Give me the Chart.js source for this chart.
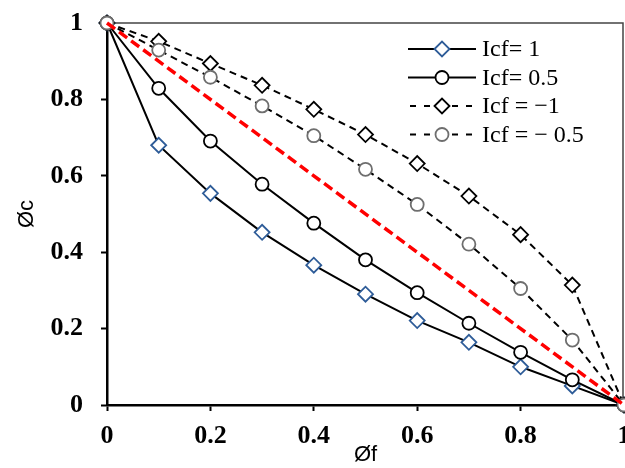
<!DOCTYPE html>
<html>
<head>
<meta charset="utf-8">
<script src="https://cdn.jsdelivr.net/npm/chart.js@4/dist/chart.umd.min.js"></script>
<style>
  html, body { margin: 0; padding: 0; background: #fff; }
  #wrap { width: 625px; height: 468px; position: relative; }
</style>
</head>
<body>
<div id="wrap"><canvas id="chart"></canvas></div>
<script>
// volume fraction of the fine phase
const phiF = [0, 0.1, 0.2, 0.3, 0.4, 0.5, 0.6, 0.7, 0.8, 0.9, 1];

// coarse fraction for each interaction coefficient
const icf1 = [1, 0.68, 0.554, 0.452, 0.366, 0.29, 0.221, 0.164, 0.1, 0.05, 0];
const icf05 = [1, 0.829, 0.691, 0.578, 0.476, 0.38, 0.294, 0.214, 0.138, 0.066, 0];
const icfM1 = [1, 0.952, 0.894, 0.837, 0.774, 0.708, 0.632, 0.547, 0.446, 0.314, 0];
const icfM05 = [1, 0.929, 0.858, 0.783, 0.705, 0.617, 0.525, 0.421, 0.305, 0.17, 0];

// ideal mixing line (no interaction)
const idealX = [0, 1];
const idealY = [1, 0];

const seriesLabels = ["Icf= 1", "Icf= 0.5", "Icf = \u22121", "Icf = \u2212 0.5"];
const axisTicks = [0, 0.2, 0.4, 0.6, 0.8, 1];

function toPoints(xs, ys) {
  return xs.map((x, i) => ({ x: x, y: ys[i] }));
}

function series(label, ys, markerColor, pointStyle, radius, dash) {
  return {
    label: label,
    data: toPoints(phiF, ys),
    borderColor: "#000",
    borderWidth: 2,
    borderDash: dash,
    pointStyle: pointStyle,
    pointRadius: radius,
    pointHoverRadius: radius,
    pointBorderColor: markerColor,
    pointBackgroundColor: "#fff",
    pointBorderWidth: 1.8,
    tension: 0,
    clip: false,
  };
}

const datasets = [
  {
    label: "ideal",
    data: toPoints(idealX, idealY),
    borderColor: "#ff0000",
    borderWidth: 3.5,
    borderDash: [10, 5],
    pointRadius: 0,
    tension: 0,
    clip: false,
  },
  series(seriesLabels[3], icfM05, "#6e6e6e", "circle", 6.5, [7, 5]),
  series(seriesLabels[2], icfM1, "#000", "rectRot", 7.5, [7, 5]),
  series(seriesLabels[1], icf05, "#000", "circle", 6.5, []),
  series(seriesLabels[0], icf1, "#2e5c98", "rectRot", 7.5, []),
];

// thin frame on the top and right of the plot area
const framePlugin = {
  id: "frame",
  beforeDatasetsDraw(chart) {
    const { ctx, chartArea: a } = chart;
    ctx.save();
    ctx.strokeStyle = "#444";
    ctx.lineWidth = 1.5;
    ctx.beginPath();
    ctx.moveTo(a.left, a.top);
    ctx.lineTo(a.right - 1, a.top);
    ctx.lineTo(a.right - 1, a.bottom);
    ctx.stroke();
    ctx.restore();
  },
};

// legend with a line sample and the marker in the middle
const lineLegend = {
  id: "lineLegend",
  afterDatasetsDraw(chart) {
    const ctx = chart.ctx;
    const items = seriesLabels.map((label) =>
      chart.data.datasets.find((d) => d.label === label)
    );
    const x0 = 408, x1 = 476, top = 49, step = 28.5;
    ctx.save();
    items.forEach((ds, i) => {
      const y = top + i * step;
      ctx.strokeStyle = "#000";
      ctx.lineWidth = 2;
      ctx.setLineDash(ds.borderDash.length ? [6, 8] : []);
      ctx.lineDashOffset = -2;
      ctx.beginPath();
      ctx.moveTo(x0, y);
      ctx.lineTo(x1, y);
      ctx.stroke();
      ctx.setLineDash([]);
      ctx.fillStyle = "#fff";
      ctx.strokeStyle = ds.pointBorderColor;
      ctx.lineWidth = ds.pointBorderWidth;
      Chart.helpers.drawPoint(ctx, {
        pointStyle: ds.pointStyle,
        radius: ds.pointRadius,
        rotation: 0,
        borderWidth: ds.pointBorderWidth,
      }, (x0 + x1) / 2, y);
      ctx.fillStyle = "#000";
      ctx.font = "24px 'Liberation Serif', 'Times New Roman', serif";
      ctx.textBaseline = "middle";
      ctx.textAlign = "left";
      ctx.fillText(ds.label, x1 + 6, y + 1);
    });
    ctx.restore();
  },
};

const tickFont = { family: "'Liberation Serif', 'Times New Roman', serif", size: 26, weight: "bold" };
const titleFont = { family: "'Liberation Sans', Arial, sans-serif", size: 22, lineHeight: 1 };
const tickGrid = { display: true, drawOnChartArea: false, drawTicks: true, tickLength: 6, tickWidth: 2, tickColor: "#000" };

new Chart(document.getElementById("chart"), {
  type: "line",
  data: { datasets: datasets },
  options: {
    responsive: true,
    maintainAspectRatio: false,
    animation: false,
    layout: { autoPadding: false, padding: { top: 23, right: 1, left: 0, bottom: 0 } },
    plugins: {
      legend: { display: false },
      tooltip: { enabled: false },
    },
    scales: {
      x: {
        type: "linear",
        min: 0,
        max: 1,
        afterFit(scale) {
          scale.height = 63;
          scale.paddingLeft = 0;
          scale.paddingRight = 0;
        },
        afterBuildTicks(scale) { scale.ticks = axisTicks.map((v) => ({ value: v })); },
        border: { display: true, color: "#000", width: 2.5 },
        grid: tickGrid,
        ticks: { color: "#000", font: tickFont, padding: 10, maxRotation: 0, callback: (v) => String(v) },
        title: { display: true, text: "\u00d8f", color: "#000", font: titleFont, padding: { bottom: 2 } },
      },
      y: {
        type: "linear",
        min: 0,
        max: 1,
        afterFit(scale) {
          scale.width = 107;
          scale.paddingTop = 0;
          scale.paddingBottom = 0;
        },
        afterBuildTicks(scale) { scale.ticks = axisTicks.map((v) => ({ value: v })); },
        border: { display: true, color: "#000", width: 2.5 },
        grid: tickGrid,
        ticks: { color: "#000", font: tickFont, padding: 18, callback: (v) => String(v) },
        title: { display: true, text: "\u00d8c", color: "#000", font: titleFont, padding: { top: 16 } },
      },
    },
  },
  plugins: [framePlugin, lineLegend],
});
</script>
</body>
</html>
